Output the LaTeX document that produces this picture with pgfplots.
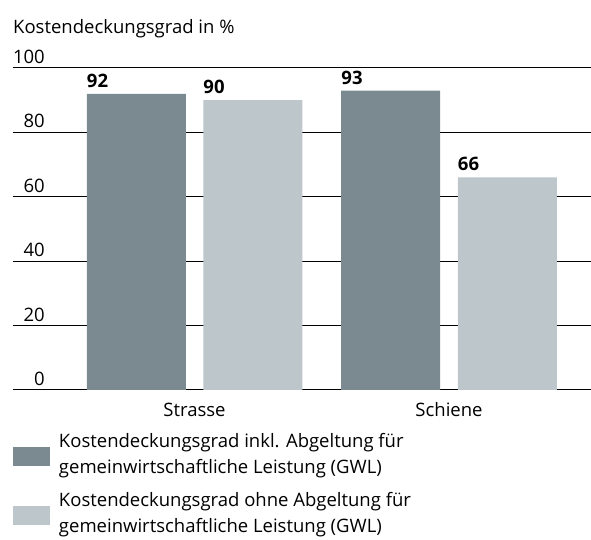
\documentclass[border=0pt]{standalone}
\usepackage{pgfplots}
\pgfplotsset{compat=1.18}
\usepackage{fontspec}
\setmainfont{Open Sans}
\definecolor{darkbar}{HTML}{7B8A91}
\definecolor{lightbar}{HTML}{BCC6CB}
\begin{document}
\begin{tikzpicture}[x=1pt,y=1pt,font=\fontsize{18.5}{26}\selectfont]
\path[use as bounding box] (0,0) rectangle (591,540);
\begin{axis}[
  at={(13pt,150pt)}, anchor=south west,
  scale only axis, width=578pt, height=322pt,
  xmin=-0.7132, xmax=1.558, ymin=0, ymax=100,
  axis line style={draw=none},
  major tick length=0pt,
  tick style={draw=none},
  ytick={0,20,40,60,80,100},
  ymajorgrids,
  grid style={black, line width=1pt},
  /pgf/number format/assume math mode=true,
  yticklabel style={anchor=base east, inner sep=0pt, xshift=32pt, yshift=4.5pt},
  xtick={0,1}, xticklabels={Strasse,Schiene},
  xticklabel style={anchor=base, inner sep=0pt, yshift=-27pt},
  title={Kostendeckungsgrad in \%},
  title style={at={(0,1)}, anchor=base west, yshift=28pt, inner sep=0pt},
  legend style={at={(0,0)}, anchor=north west, yshift=-43pt, draw=none, fill=none,
    inner sep=0pt, outer sep=0pt, column sep=9pt, row sep=17.8pt,
    nodes={align=left, inner sep=0pt}},
  legend cell align=left,
  legend image code/.code={\fill[#1] (0pt,-12pt) rectangle (37pt,7pt);},
  nodes near coords,
  nodes near coords style={anchor=base west, yshift=6.5pt, inner sep=0pt, font=\fontsize{18.5}{22}\selectfont\bfseries},
]
\addplot[ybar, bar width=99pt, bar shift=-58.25pt, fill=darkbar, draw=none,
  nodes near coords style={xshift=-107.75pt}] coordinates {(0,92) (1,93)};
\addlegendentry{Kostendeckungsgrad inkl. Abgeltung für\\gemeinwirtschaftliche Leistung (GWL)}
\addplot[ybar, bar width=99pt, bar shift=58.25pt, fill=lightbar, draw=none,
  nodes near coords style={xshift=8.75pt}] coordinates {(0,90) (1,66)};
\addlegendentry{Kostendeckungsgrad ohne Abgeltung für\\gemeinwirtschaftliche Leistung (GWL)}
\end{axis}
\end{tikzpicture}
\end{document}
